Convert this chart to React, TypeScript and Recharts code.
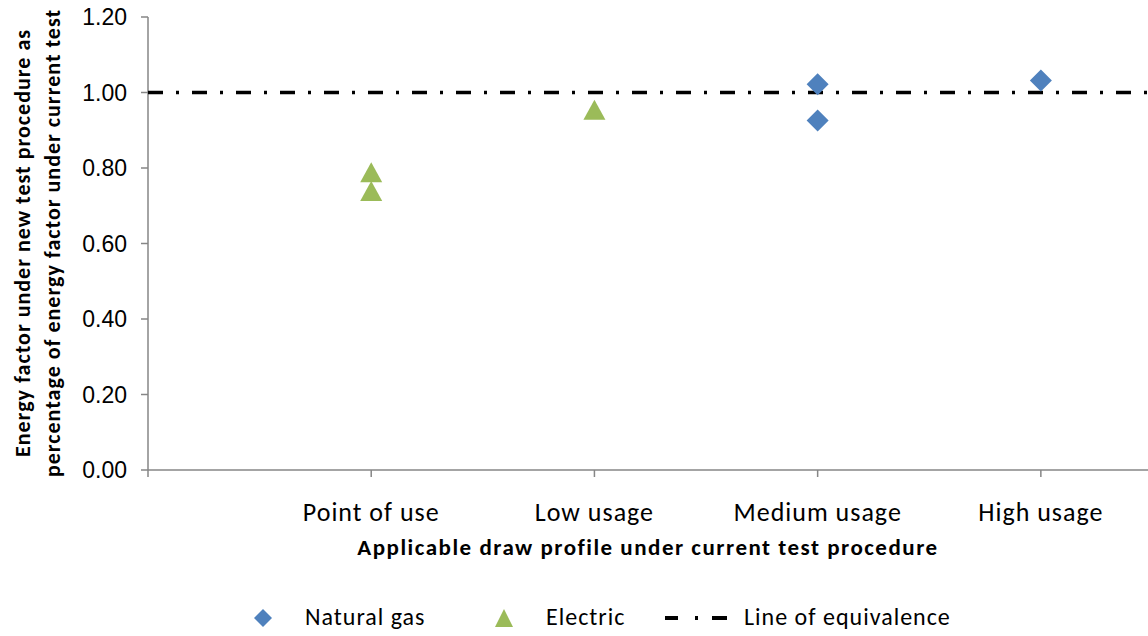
import React from "react";
import { ScatterChart, Scatter, XAxis, YAxis } from "recharts";

const categories = ["", "Point of use", "Low usage", "Medium usage", "High usage"];
const xTicks = [0, 1, 2, 3, 4];
const yTicks = [0, 0.2, 0.4, 0.6, 0.8, 1.0, 1.2];

const naturalGas = [
  { x: 3, y: 1.022 },
  { x: 3, y: 0.926 },
  { x: 4, y: 1.032 },
];
const electric = [
  { x: 1, y: 0.789 },
  { x: 1, y: 0.739 },
  { x: 2, y: 0.954 },
];
const equivalence = [
  { x: 0, y: 1.0 },
  { x: 4.48, y: 1.0 },
];

const C = {
  gas: "#4F81BD",
  electric: "#9BBB59",
  axis: "#868686",
  text: "#000000",
};
const FONT = "Carlito, Lato, 'Open Sans', sans-serif";
const DASH = "15 13 3 13";

const Diamond = (props: any) => {
  const { cx, cy } = props;
  const r = 11;
  return <path d={`M${cx},${cy - r} L${cx + r},${cy} L${cx},${cy + r} L${cx - r},${cy} Z`} fill={C.gas} />;
};

const Triangle = (props: any) => {
  const { cx, cy } = props;
  return <path d={`M${cx},${cy - 10} L${cx + 11},${cy + 10} L${cx - 11},${cy + 10} Z`} fill={C.electric} />;
};

const XTick = (props: any) => {
  const { x, y, payload } = props;
  return (
    <text x={x} y={y + 42} textAnchor="middle" fontFamily={FONT} fontSize={26} letterSpacing={1} fill={C.text}>
      {categories[payload.value] ?? ""}
    </text>
  );
};

const YTitle = () => (
  <g fontFamily={FONT} fontSize={22} fontWeight="bold" letterSpacing={1} fill={C.text}>
    <text transform="translate(30,243) rotate(-90)" textAnchor="middle">
      Energy factor under new test procedure as
    </text>
    <text transform="translate(60,243) rotate(-90)" textAnchor="middle">
      percentage of energy factor under current test
    </text>
  </g>
);

const XTitle = () => (
  <text x={648} y={555} textAnchor="middle" fontFamily={FONT} fontSize={23} fontWeight="bold" letterSpacing={1.5} fill={C.text}>
    Applicable draw profile under current test procedure
  </text>
);

export default function App() {
  return (
    <div style={{ position: "absolute", left: 0, top: 0, width: 1148, height: 636, background: "#fff" }}>
      <ScatterChart width={1148} height={636} margin={{ top: 17, right: 0, bottom: 0, left: 0 }}>
        <XAxis
          type="number"
          dataKey="x"
          domain={[0, 4.48]}
          ticks={xTicks}
          interval={0}
          height={166}
          stroke={C.axis}
          strokeWidth={1.5}
          tickSize={7}
          tick={<XTick />}
          label={{ content: () => <XTitle /> }}
        />
        <YAxis
          type="number"
          dataKey="y"
          domain={[0, 1.2]}
          ticks={yTicks}
          interval={0}
          width={148}
          stroke={C.axis}
          strokeWidth={1.5}
          tickSize={7}
          tickMargin={14}
          tickFormatter={(v: number) => v.toFixed(2)}
          tick={{ fill: C.text, fontSize: 23, fontFamily: "'Liberation Sans', Arial, sans-serif" }}
          label={{ content: () => <YTitle /> }}
        />
        <Scatter
          name="Line of equivalence"
          data={equivalence}
          line={{ stroke: "#000", strokeWidth: 3.5, strokeDasharray: DASH }}
          shape={() => <g />}
          isAnimationActive={false}
        />
        <Scatter name="Natural gas" data={naturalGas} shape={<Diamond />} isAnimationActive={false} />
        <Scatter name="Electric" data={electric} shape={<Triangle />} isAnimationActive={false} />
      </ScatterChart>
      <div
        style={{
          position: "absolute",
          left: 0,
          top: 602,
          width: 1148,
          height: 30,
          fontFamily: FONT,
          fontSize: 24,
          letterSpacing: 1,
          color: C.text,
        }}
      >
        <svg style={{ position: "absolute", left: 253, top: 6 }} width={20} height={20}>
          <path d="M10,1 L19,10 L10,19 L1,10 Z" fill={C.gas} />
        </svg>
        <span style={{ position: "absolute", left: 305, top: 0 }}>Natural gas</span>
        <svg style={{ position: "absolute", left: 494, top: 6 }} width={20} height={20}>
          <path d="M10,1 L19,19 L1,19 Z" fill={C.electric} />
        </svg>
        <span style={{ position: "absolute", left: 546, top: 0 }}>Electric</span>
        <svg style={{ position: "absolute", left: 665, top: 5 }} width={62} height={22}>
          <line x1={0} y1={11} x2={62} y2={11} stroke="#000" strokeWidth={4} strokeDasharray="13 17 3 14 15" />
        </svg>
        <span style={{ position: "absolute", left: 744, top: 0 }}>Line of equivalence</span>
      </div>
    </div>
  );
}
